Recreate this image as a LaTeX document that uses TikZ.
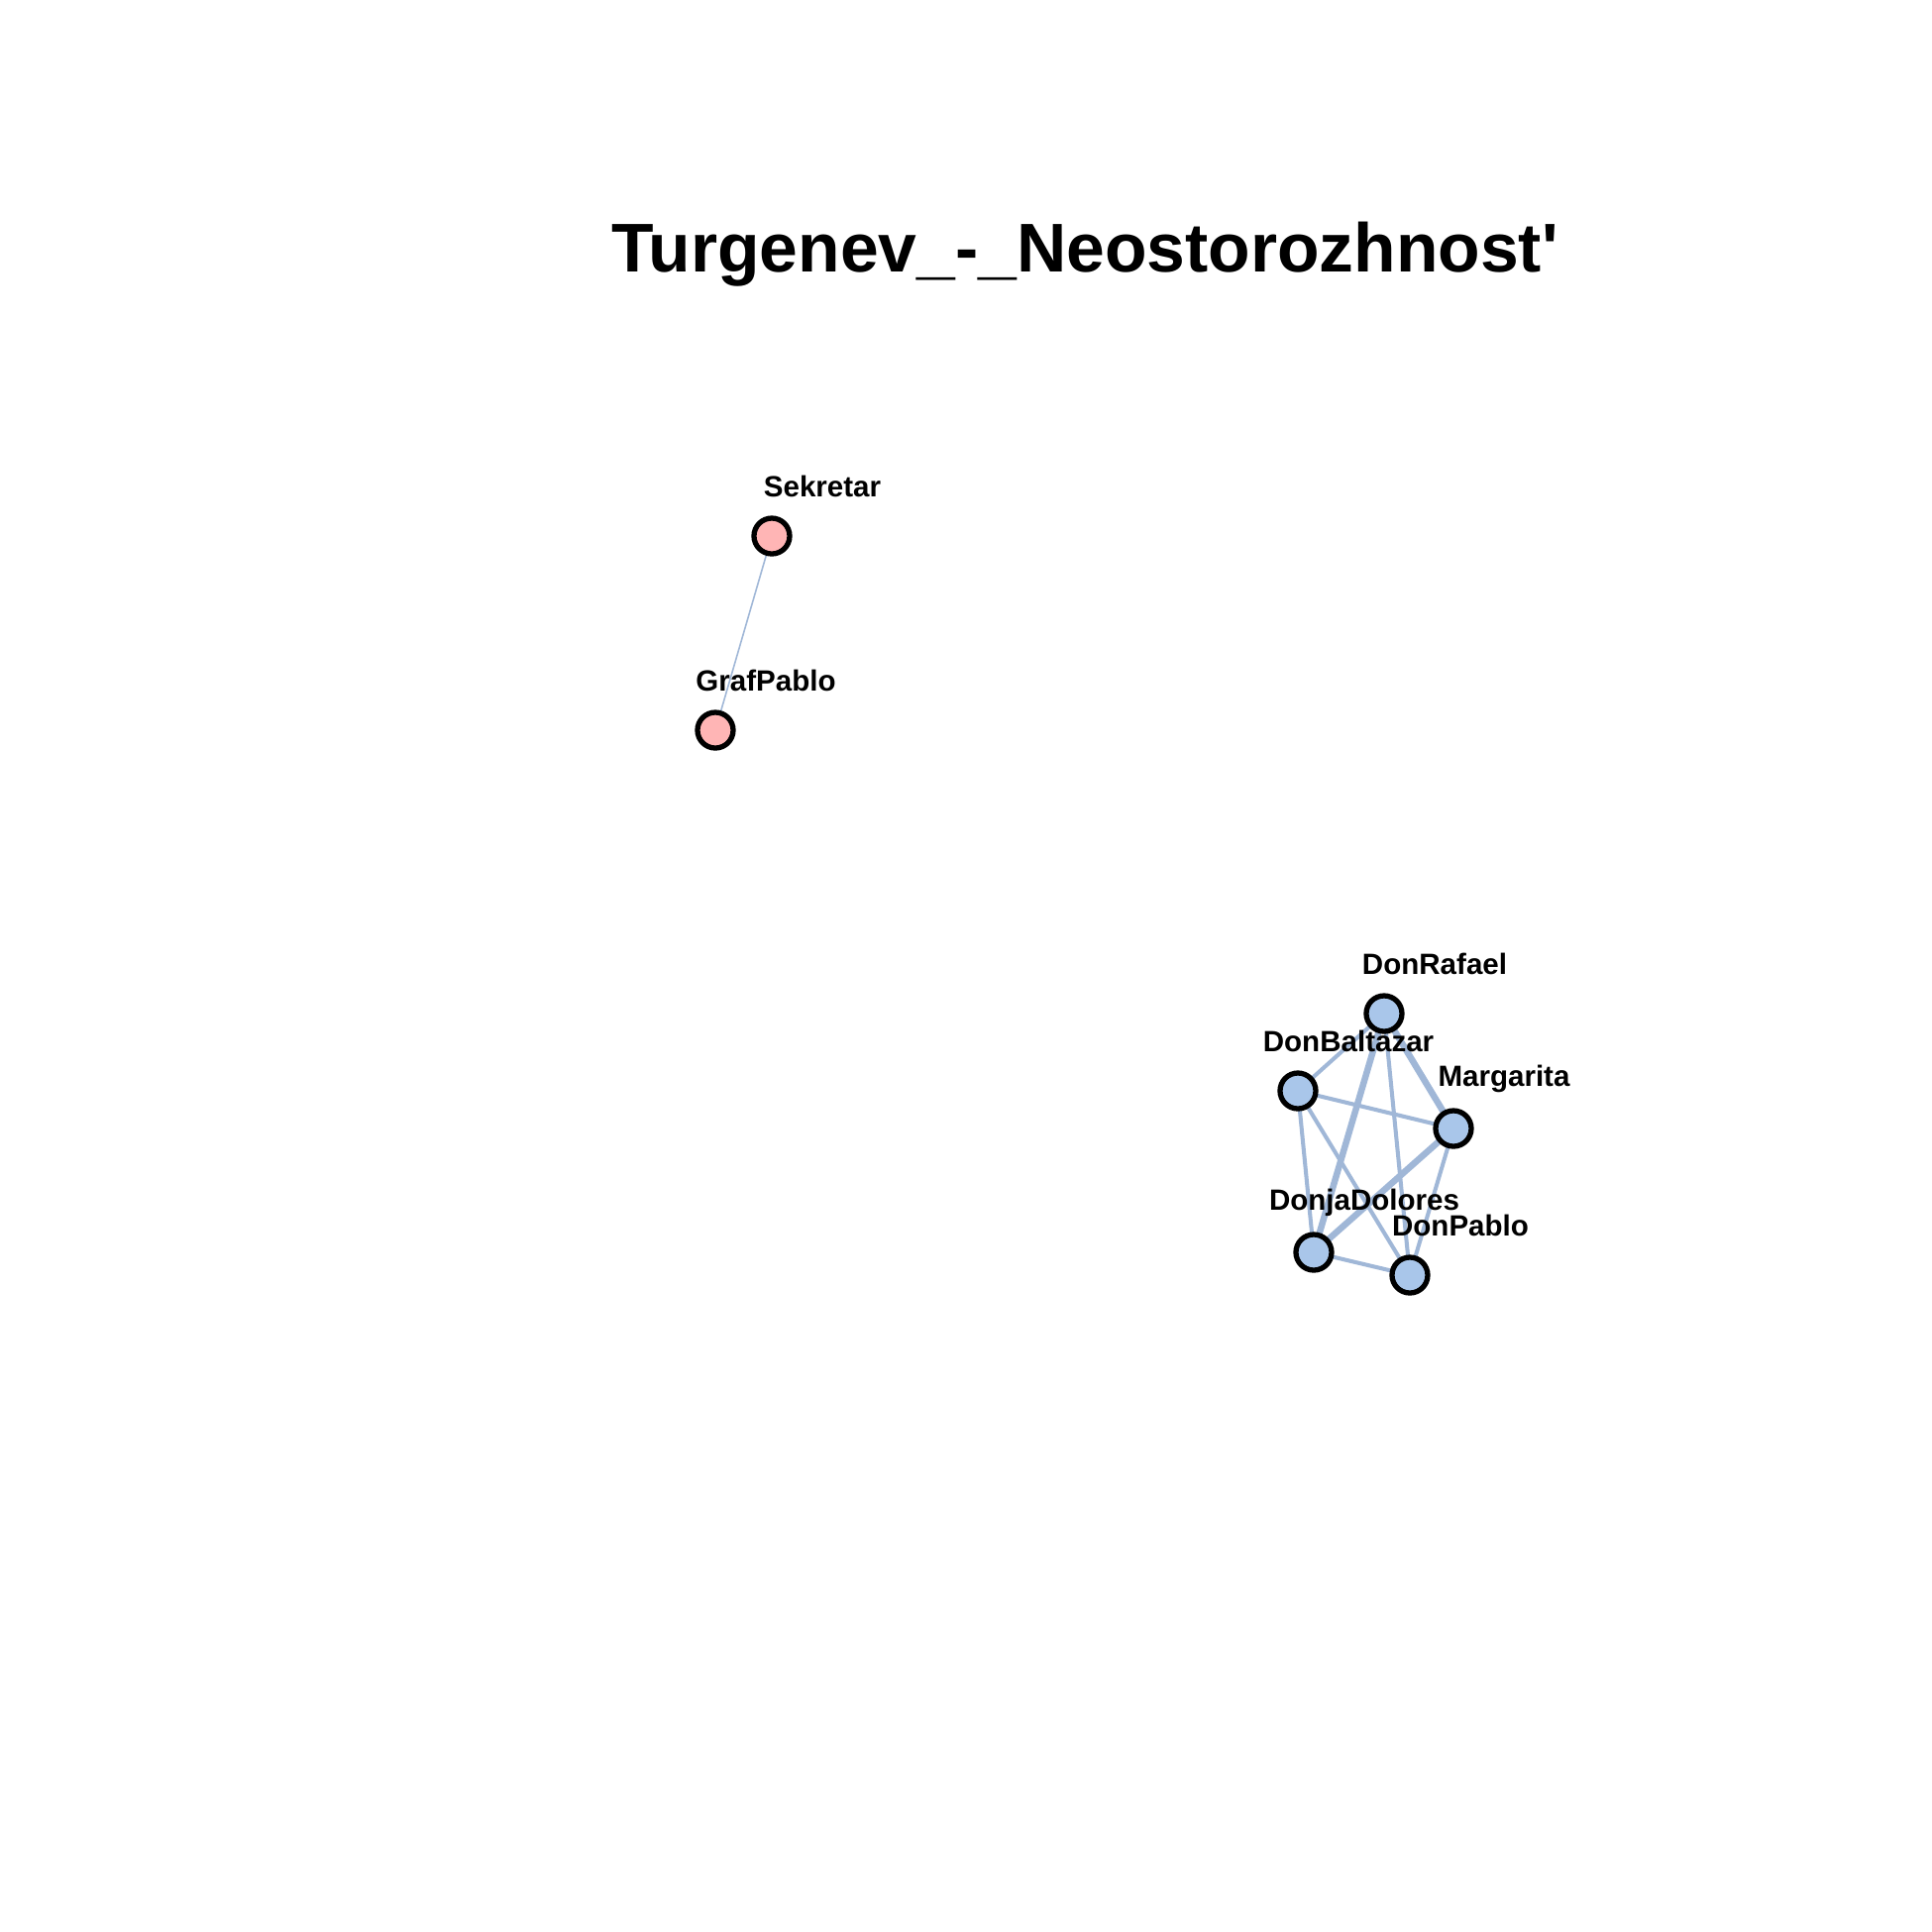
\documentclass[tikz,border=0pt]{standalone}
\usepackage{fontspec}
\setmainfont{Liberation Sans}
\newfontfamily\titlefont{Liberation Sans}[Ligatures=TeXOff]
\usetikzlibrary{positioning,backgrounds}
\definecolor{charblue}{HTML}{A9C6EA}
\definecolor{charpink}{HTML}{FFB5B5}
\definecolor{tieblue}{HTML}{A0B7D7}
\tikzset{
  char_node/.style={circle,draw=black,line width=1.5pt,minimum size=0.36cm,inner sep=0pt},
  char_blue/.style={char_node,fill=charblue},
  char_pink/.style={char_node,fill=charpink},
  name_lbl/.style={font=\fontsize{8.4}{10}\selectfont\bfseries,xshift=0.51cm,yshift=0.50cm},
  tie/.style={draw=tieblue,line width=1.15pt},
  tie_thick/.style={draw=tieblue,line width=1.85pt},
  tie_thin/.style={draw=tieblue,line width=0.45pt},
}

\begin{document}
\begin{tikzpicture}[x=0.01cm,y=-0.01cm]
  \useasboundingbox (0,0) rectangle (1950,1950);

  \node[anchor=base,font=\titlefont\fontsize{19.8}{24}\selectfont\bfseries] (title) at (1095,274) {Turgenev\_-\_Neostorozhnost'};

  % characters
  \node[char_pink,label={[name_lbl]center:Sekretar}] (sek) at (779,541) {};
  \node[char_pink,label={[name_lbl]center:GrafPablo}] (graf) at (722,737) {};
  \node[char_blue,label={[name_lbl]center:DonRafael}] (rafael) at (1397,1023) {};
  \node[char_blue,label={[name_lbl]center:DonBaltazar}] (baltazar) at (1310,1101) {};
  \node[char_blue,label={[name_lbl]center:Margarita}] (margarita) at (1467,1139) {};
  \node[char_blue,label={[name_lbl]center:DonjaDolores}] (dolores) at (1326,1264) {};
  \node[char_blue,label={[name_lbl]center:DonPablo}] (pablo) at (1423,1287) {};

  \begin{scope}[on background layer]
    \draw[tie_thin] (sek.center) -- (graf.center);
    \draw[tie] (rafael.center) -- (baltazar.center);
    \draw[tie_thick] (rafael.center) -- (margarita.center);
    \draw[tie_thick] (rafael.center) -- (dolores.center);
    \draw[tie] (rafael.center) -- (pablo.center);
    \draw[tie] (baltazar.center) -- (margarita.center);
    \draw[tie] (baltazar.center) -- (dolores.center);
    \draw[tie] (baltazar.center) -- (pablo.center);
    \draw[tie_thick] (margarita.center) -- (dolores.center);
    \draw[tie] (margarita.center) -- (pablo.center);
    \draw[tie] (dolores.center) -- (pablo.center);
  \end{scope}
\end{tikzpicture}
\end{document}
